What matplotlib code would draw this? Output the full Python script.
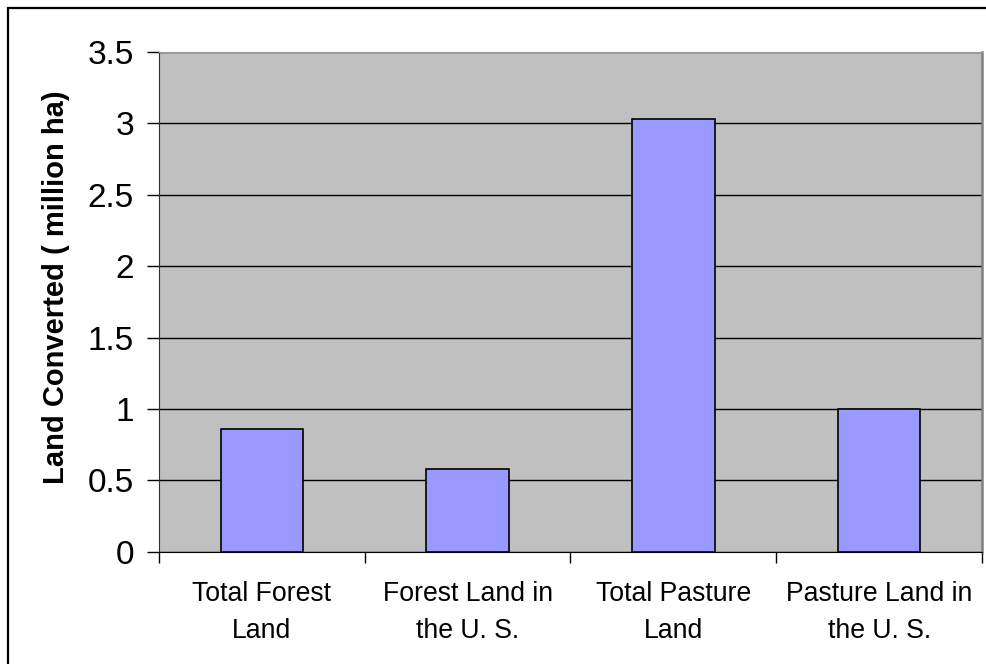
import matplotlib.pyplot as plt
from matplotlib.patches import Rectangle
from matplotlib.ticker import FixedLocator, MultipleLocator

categories = [
    "Total Forest\nLand",
    "Forest Land in\nthe U. S.",
    "Total Pasture\nLand",
    "Pasture Land in\nthe U. S.",
]
land_converted = [0.86, 0.58, 3.03, 1.0]

y_label = "Land Converted ( million ha)"
y_max = 3.5


def plot_land_converted(ax, labels, values):
    """
    Draw the converted land bars on a grey plot area.
    """

    positions = list(range(len(labels)))

    ax.set_facecolor("#C0C0C0")
    ax.set_axisbelow(True)

    ax.bar(
        positions,
        values,
        width=0.4,
        color="#9999FF",
        edgecolor="black",
        linewidth=1.2,
        zorder=3
    )

    ax.set_xlim(-0.5, len(labels) - 0.5)
    ax.set_ylim(0, y_max)

    # labels sit between the tick marks, which mark category boundaries
    ax.set_xticks(positions)
    ax.set_xticklabels(labels, fontsize=19.2, linespacing=1.55)
    ax.tick_params(axis="x", which="major", length=0, pad=21)
    ax.xaxis.set_minor_locator(
        FixedLocator([p - 0.5 for p in range(len(labels) + 1)])
    )
    ax.tick_params(axis="x", which="minor", length=8, width=1,
                   color="black", direction="out")

    ax.yaxis.set_major_locator(MultipleLocator(0.5))
    ax.set_yticklabels([f"{v:g}" for v in ax.get_yticks()])
    ax.tick_params(axis="y", length=9, width=1, color="black",
                   direction="out", labelsize=24, pad=9)

    ax.grid(axis="y", color="black", linewidth=1, zorder=0)
    ax.yaxis.get_gridlines()[-1].set_visible(False)

    ax.set_ylabel(y_label, fontsize=21, fontweight="bold",
                  labelpad=13, y=0.53)

    ax.spines["left"].set_color("#303030")
    ax.spines["bottom"].set_color("black")
    ax.spines["top"].set_color("#9A9A9A")
    ax.spines["right"].set_color("#808080")
    ax.spines["right"].set_linewidth(1.8)


def main():
    plt.rcParams["font.family"] = ["Liberation Sans", "DejaVu Sans"]

    fig = plt.figure(figsize=(9.87, 6.64), dpi=100)
    ax = fig.add_axes([0.1611, 0.1687, 0.8338, 0.7537])

    plot_land_converted(ax, categories, land_converted)

    # chart border running off the right and bottom edges
    fig.patches.append(
        Rectangle(
            (8 / 987, -0.05),
            1.1,
            (664 - 8) / 664 + 0.05,
            transform=fig.transFigure,
            fill=False,
            edgecolor="black",
            linewidth=1.6
        )
    )

    fig.savefig("out.png", dpi=100)


if __name__ == "__main__":
    main()
